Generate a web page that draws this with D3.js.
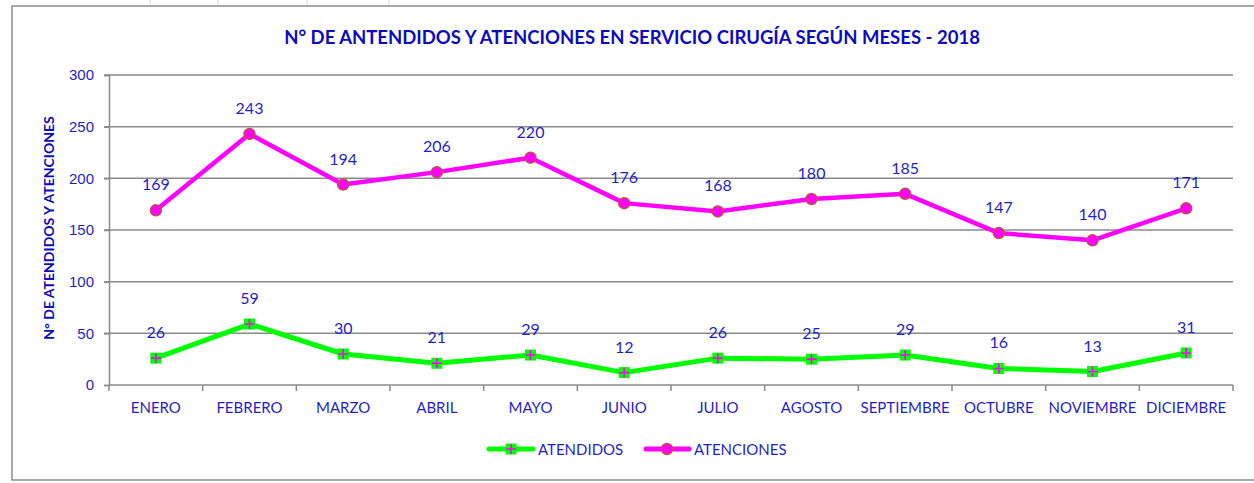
<!DOCTYPE html>
<html>
<head>
<meta charset="utf-8">
<script src="https://cdn.jsdelivr.net/npm/d3@7"></script>
<style>
  body { margin: 0; background: #fff; }
  svg { display: block; font-family: Lato, "Open Sans", sans-serif; }
</style>
</head>
<body>
<svg class="chart"></svg>
<script>
const months = ["ENERO","FEBRERO","MARZO","ABRIL","MAYO","JUNIO","JULIO","AGOSTO","SEPTIEMBRE","OCTUBRE","NOVIEMBRE","DICIEMBRE"]
const atendidos = [26,59,30,21,29,12,26,25,29,16,13,31]
const atenciones = [169,243,194,206,220,176,168,180,185,147,140,171]
const yTicks = [0,50,100,150,200,250,300]

const W = 1254, H = 483
const margin = {top: 75, right: 21, bottom: 98, left: 109}
const width = W - margin.left - margin.right,
      height = H - margin.top - margin.bottom
const blue = "#1f1fc8"

let svg = d3.select(".chart").attr("width", W).attr("height", H)

// spreadsheet cells behind the chart
svg.append("rect").attr("width", W).attr("height", H).attr("fill", "#fff")
;[150, 218, 307, 389].forEach(x => svg.append("line").attr("x1", x).attr("x2", x).attr("y1", 0).attr("y2", 6).attr("stroke", "#d8d8d8"))
svg.append("rect")//chart frame
  .attr("x", 12).attr("y", 6).attr("width", W - 10).attr("height", 474)
  .attr("fill", "#fff").attr("stroke", "#8c8c8c").attr("stroke-width", 1.5)

let chart = svg.append("g").attr("transform", "translate(" + margin.left + "," + margin.top + ")")

let x = d3.scaleBand().domain(months).range([0, width])
let y = d3.scaleLinear().domain([0, 300]).range([height, 0])

// gridlines
chart.selectAll(".grid").data(yTicks.filter(d => d > 0)).enter().append("line")
  .attr("x1", -5).attr("x2", width)
  .attr("y1", d => y(d)).attr("y2", d => y(d))
  .attr("stroke", "#8a8a8a").attr("stroke-width", 1.5)

let yAxis = chart.append("g").call(d3.axisLeft(y).tickValues(yTicks).tickSize(5).tickPadding(10))
yAxis.select(".domain").attr("stroke", "#8a8a8a").attr("stroke-width", 1.5)
yAxis.selectAll(".tick line").attr("stroke", "#8a8a8a").attr("stroke-width", 1.5)
yAxis.selectAll("text").attr("fill", blue).style("font-size", "15px")

// x axis with ticks at category boundaries
let xAxisG = chart.append("g").attr("transform", "translate(0," + height + ")")
xAxisG.append("line").attr("x1", 0).attr("x2", width).attr("stroke", "#8a8a8a").attr("stroke-width", 1.5)
xAxisG.selectAll(".bt").data(d3.range(months.length + 1)).enter().append("line")
  .attr("x1", i => i * x.bandwidth()).attr("x2", i => i * x.bandwidth())
  .attr("y1", 0).attr("y2", 6).attr("stroke", "#8a8a8a").attr("stroke-width", 1.5)
xAxisG.selectAll(".lbl").data(months).enter().append("text")
  .attr("x", d => x(d) + x.bandwidth() / 2).attr("y", 28)
  .attr("text-anchor", "middle").attr("fill", blue).style("font-size", "15px")
  .text(d => d)

const cx = d => x(d) + x.bandwidth() / 2
let line = d3.line().x(d => cx(d.m)).y(d => y(d.v))

const s1 = months.map((m, i) => ({m: m, v: atendidos[i]}))
const s2 = months.map((m, i) => ({m: m, v: atenciones[i]}))

chart.append("path").datum(s1).attr("d", line).attr("fill", "none")
  .attr("stroke", "#00ff00").attr("stroke-width", 5).attr("stroke-linejoin", "round")
chart.append("path").datum(s2).attr("d", line).attr("fill", "none")
  .attr("stroke", "#ff00ff").attr("stroke-width", 4.5).attr("stroke-linejoin", "round")

function plusMarker(g, px, py) {
  g.append("rect").attr("x", px - 5.5).attr("y", py - 5.5).attr("width", 11).attr("height", 11).attr("fill", "#00ff00")
  g.append("path").attr("d", "M" + (px - 5) + "," + py + "H" + (px + 5) + "M" + px + "," + (py - 5) + "V" + (py + 5))
    .attr("stroke", "#ff00ff").attr("stroke-width", 1.6)
}
function dotMarker(g, px, py) {
  g.append("circle").attr("cx", px).attr("cy", py).attr("r", 5.5)
    .attr("fill", "#ff00ff").attr("stroke", "#c0504d").attr("stroke-width", 1.5)
}

s1.forEach(d => plusMarker(chart, cx(d.m), y(d.v)))
s2.forEach(d => dotMarker(chart, cx(d.m), y(d.v)))

// data labels
;[s1, s2].forEach(s => {
  chart.selectAll(null).data(s).enter().append("text")
    .attr("x", d => cx(d.m)).attr("y", d => y(d.v) - 20)
    .attr("text-anchor", "middle").attr("fill", blue).style("font-size", "16px")
    .text(d => d.v)
})

// title
svg.append("text").attr("x", 632).attr("y", 44).attr("text-anchor", "middle")
  .attr("fill", "#0b0bc0").style("font-size", "18.5px").style("font-weight", "bold")
  .text("N° DE ANTENDIDOS Y ATENCIONES EN SERVICIO CIRUGÍA SEGÚN MESES - 2018")

// y axis title
svg.append("text").attr("transform", "translate(54," + (margin.top + height / 2 - 2) + ") rotate(-90)")
  .attr("text-anchor", "middle").attr("fill", "#0b0bc0").style("font-size", "14px").style("font-weight", "bold")
  .text("N° DE ATENDIDOS Y ATENCIONES")

// legend
let leg = svg.append("g")
leg.append("line").attr("x1", 489).attr("x2", 533).attr("y1", 449).attr("y2", 449).attr("stroke", "#00ff00").attr("stroke-width", 5).attr("stroke-linecap", "round")
plusMarker(leg, 511, 449)
leg.append("text").attr("x", 538).attr("y", 455).attr("fill", blue).style("font-size", "15px").text("ATENDIDOS")
leg.append("line").attr("x1", 646).attr("x2", 689).attr("y1", 449).attr("y2", 449).attr("stroke", "#ff00ff").attr("stroke-width", 5).attr("stroke-linecap", "round")
dotMarker(leg, 667, 449)
leg.append("text").attr("x", 694).attr("y", 455).attr("fill", blue).style("font-size", "15px").text("ATENCIONES")
</script>
</body>
</html>
